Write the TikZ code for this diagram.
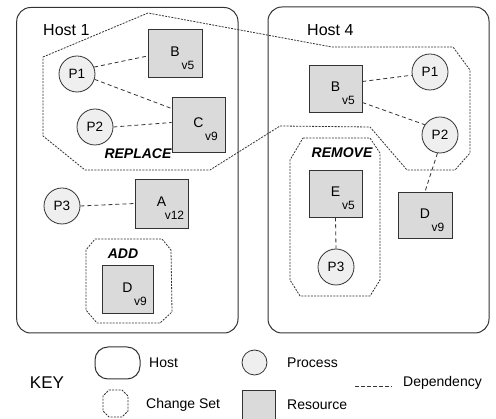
\documentclass[tikz,border=0pt]{standalone}
\usepackage{fontspec}
\setmainfont{Liberation Sans}
\usetikzlibrary{calc}
\definecolor{edge}{HTML}{333333}
\definecolor{resfill}{HTML}{DADADA}
\definecolor{procfill}{HTML}{EFEFEF}

% resource box: name, x, y, width, height, letter, version
\newcommand\resbox[7]{%
  \node[res, minimum width=#4pt, minimum height=#5pt] (#1) at (#2,#3) {};
  \node[rlet] (#1-l) at ($(#1)+(0,-1.5)$) {#6};
  \node[rver] (#1-v) at ($(#1)+(13,12)$) {#7};
}

\begin{document}
\begin{tikzpicture}[x=1pt,y=-1pt,
  host/.style={draw=edge, line width=1pt, rounded corners=14pt, inner sep=0pt},
  changeset/.style={draw=edge, line width=0.8pt, dash pattern=on 2pt off 1.2pt},
  dep/.style={draw=edge, line width=0.8pt, dash pattern=on 4pt off 3pt},
  proc/.style={circle, draw=edge, fill=procfill, line width=0.8pt, minimum size=36pt, inner sep=0pt, font=\fontsize{13.5}{14}\selectfont},
  res/.style={draw=edge, fill=resfill, line width=0.8pt, inner sep=0pt},
  rlet/.style={font=\fontsize{14}{15}\selectfont, inner sep=0pt},
  rver/.style={font=\fontsize{12}{13}\selectfont, inner sep=0pt},
  hostlab/.style={font=\fontsize{16}{18}\selectfont, inner sep=0pt, anchor=west},
  cslab/.style={font=\fontsize{14}{15}\bfseries\itshape\selectfont, inner sep=0pt},
  keylab/.style={font=\fontsize{14}{15}\selectfont, inner sep=0pt, anchor=west},
]
\useasboundingbox (0,0) rectangle (496,419);
\clip (0,0) rectangle (496,419);

% hosts
\node[host, minimum width=221.3pt, minimum height=325.5pt] (host1) at (127.35,170.25) {};
\node[host, minimum width=221pt, minimum height=326pt] (host4) at (378.5,170) {};
\node[hostlab] (host1-t) at (43,30) {Host 1};
\node[hostlab] (host4-t) at (307,30) {Host 4};

% change sets
\draw[changeset] (43,57) -- (148,13) -- (332,47) -- (453,47) -- (470,70) -- (470,153)
  -- (455,170) -- (407,170) -- (370,127) -- (280,126) -- (210,170) -- (85,170)
  -- (43,136) -- cycle;
\draw[changeset] (95,239) -- (162,239) -- (171,250) -- (172,312) -- (160,323)
  -- (97,323) -- (86,310) -- (86,250) -- cycle;
\draw[changeset] (303,138) -- (370,138) -- (380,153) -- (380,280) -- (370,296)
  -- (300,296) -- (290,280) -- (290,160) -- cycle;
\node[cslab] (replace) at (138,154) {REPLACE};
\node[cslab] (add) at (123,254) {ADD};
\node[cslab] (remove) at (342,153) {REMOVE};

% Host 1 contents
\node[proc] (h1p1) at (77,74) {P1};
\node[proc] (h1p2) at (95,127) {P2};
\node[proc] (h1p3) at (62,206) {P3};
\resbox{h1b}{175}{53}{54}{48}{B}{v5}
\resbox{h1c}{198.5}{124.5}{53}{55}{C}{v9}
\resbox{h1a}{161.5}{203.5}{53}{49}{A}{v12}
\resbox{h1d}{127.5}{289}{51}{48}{D}{v9}

% Host 4 contents
\node[proc] (h4p1) at (430,72) {P1};
\node[proc] (h4p2) at (440,135) {P2};
\node[proc] (h4p3) at (336,267) {P3};
\resbox{h4b}{335.5}{88.5}{53}{47}{B}{v5}
\resbox{h4e}{335.5}{193.5}{53}{47}{E}{v5}
\resbox{h4d}{425}{215}{54}{46}{D}{v9}

% dependencies
\draw[dep] (h1p1.22) -- ($(h1b.west)+(0,3)$);
\draw[dep] (h1p1.-17) -- ($(h1c.west)+(0,-16)$);
\draw[dep] (h1p2.east) -- ($(h1c.west)+(0,-2)$);
\draw[dep] (h1p3.east) -- (h1a.west);
\draw[dep] ($(h4b.east)+(0,-7)$) -- (h4p1.190);
\draw[dep] ($(h4b.east)+(0,14)$) -- (h4p2.146);
\draw[dep] (h4p2.-98) -- (h4d.north);
\draw[dep] (h4e.south) -- (h4p3.north);

% key
\node[font=\fontsize{17}{18}\selectfont, inner sep=0pt] (key) at (47,383) {KEY};
\node[host, rounded corners=13pt, minimum width=45pt, minimum height=32pt] (k-host) at (117.5,363) {};
\node[keylab] (k-host-t) at (149,363) {Host};
\node[proc, minimum size=25pt] (k-proc) at (254.5,362.5) {};
\node[keylab] (k-proc-t) at (287,363) {Process};
\coordinate (k-dep-a) at (355,386);
\coordinate (k-dep-b) at (392,386);
\draw[dep, dash pattern=on 3.5pt off 2.5pt] (k-dep-a) -- (k-dep-b);
\node[keylab] (k-dep-t) at (403,383) {Dependency};
\draw[changeset] (109,390) -- (122,390) -- (128,396) -- (128,411) -- (122,417)
  -- (109,417) -- (103,411) -- (103,396) -- cycle;
\node[keylab] (k-cs-t) at (146,405) {Change Set};
\node[res, minimum width=33pt, minimum height=33pt] (k-res) at (258.5,406.5) {};
\node[keylab] (k-res-t) at (287,405) {Resource};
\end{tikzpicture}
\end{document}
